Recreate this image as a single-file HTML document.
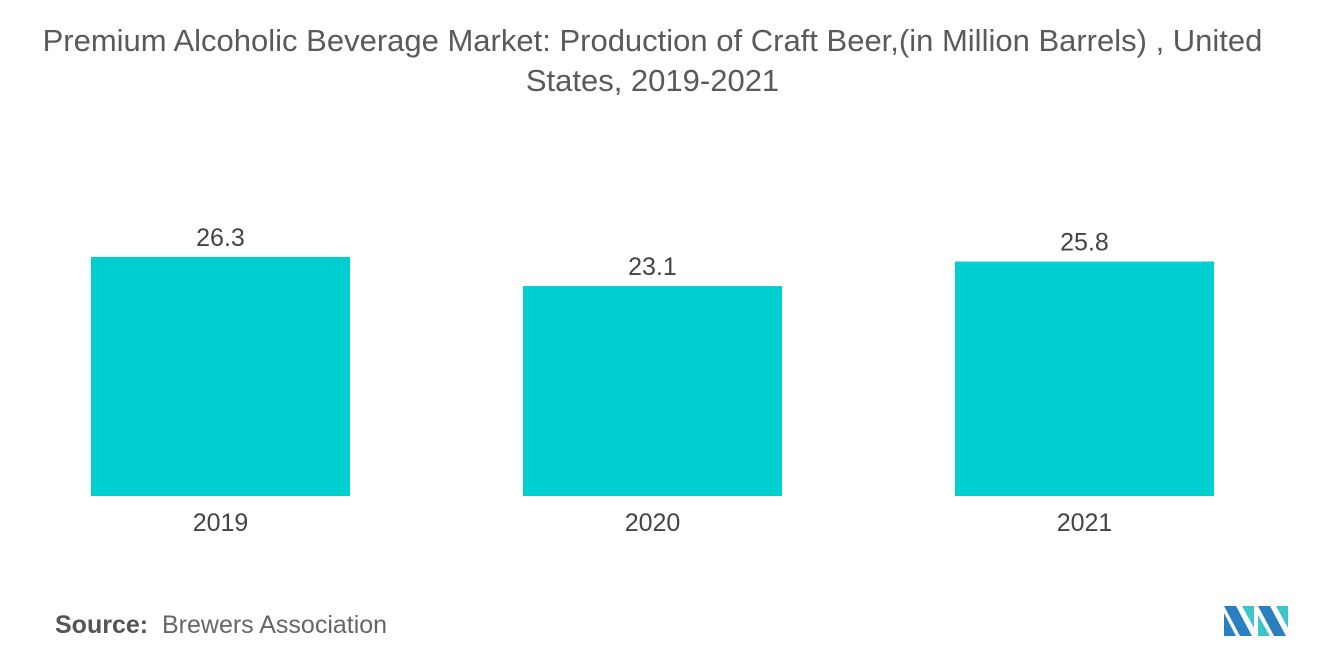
<!DOCTYPE html>
<html><head><meta charset="utf-8"><style>
body{margin:0;width:1320px;height:665px;background:#fff;font-family:"Liberation Sans",sans-serif;overflow:hidden;position:relative}
.title{position:absolute;left:0;width:1305px;top:21px;text-align:center;font-size:31px;line-height:40px;color:#5a5a5a;white-space:nowrap}
.src{position:absolute;left:55px;top:611px;font-size:25px;color:#666}
</style></head><body>
<div class="title">Premium Alcoholic Beverage Market: Production of Craft Beer,(in Million Barrels) , United<br>States, 2019-2021</div>
<svg id="chart" width="1320" height="600" style="position:absolute;left:0;top:0"></svg>
<div class="src"><b style="font-weight:bold;color:#555">Source:</b>&nbsp; Brewers Association</div>
<svg width="70" height="36" style="position:absolute;left:1224px;top:603px" viewBox="0 0 70 36">
<polygon points="0,3 12,3 28,33 16,33" fill="#2a7fc0"/>
<polygon points="0,10 12,33 0,33" fill="#2a7fc0"/>
<polygon points="18,3 30,3 30,25" fill="#3cc6cc"/>
<polygon points="34,3 46,3 62,33 50,33" fill="#2a7fc0"/>
<polygon points="34,12 46,33 34,33" fill="#3cc6cc"/>
<polygon points="52,3 64,3 64,25" fill="#3cc6cc"/>
</svg>
<script>
const categories=["2019","2020","2021"];
const values=[26.3,23.1,25.8];
const labels=["26.3","23.1","25.8"];
const svg=document.getElementById('chart');
const NS="http://www.w3.org/2000/svg";
const base=496, scale=239/26.3;
const y=v=>base-v*scale;
const x=i=>91+i*432;
const bw=259;
categories.forEach((c,i)=>{
 const r=document.createElementNS(NS,'rect');
 r.setAttribute('x',x(i));r.setAttribute('y',y(values[i]));
 r.setAttribute('width',bw);r.setAttribute('height',base-y(values[i]));
 r.setAttribute('fill','#00cfd1');
 
 
 svg.appendChild(r);
 const t=document.createElementNS(NS,'text');
 t.setAttribute('x',x(i)+bw/2);t.setAttribute('y',y(values[i])-11);
 t.setAttribute('text-anchor','middle');t.setAttribute('font-size','25');t.setAttribute('fill','#444');
 t.textContent=labels[i];
 
 
 svg.appendChild(t);
 const l=document.createElementNS(NS,'text');
 l.setAttribute('x',x(i)+bw/2);l.setAttribute('y',531);
 l.setAttribute('text-anchor','middle');l.setAttribute('font-size','25');l.setAttribute('fill','#444');
 l.textContent=c;
 
 
 svg.appendChild(l);
});
</script>
</body></html>
